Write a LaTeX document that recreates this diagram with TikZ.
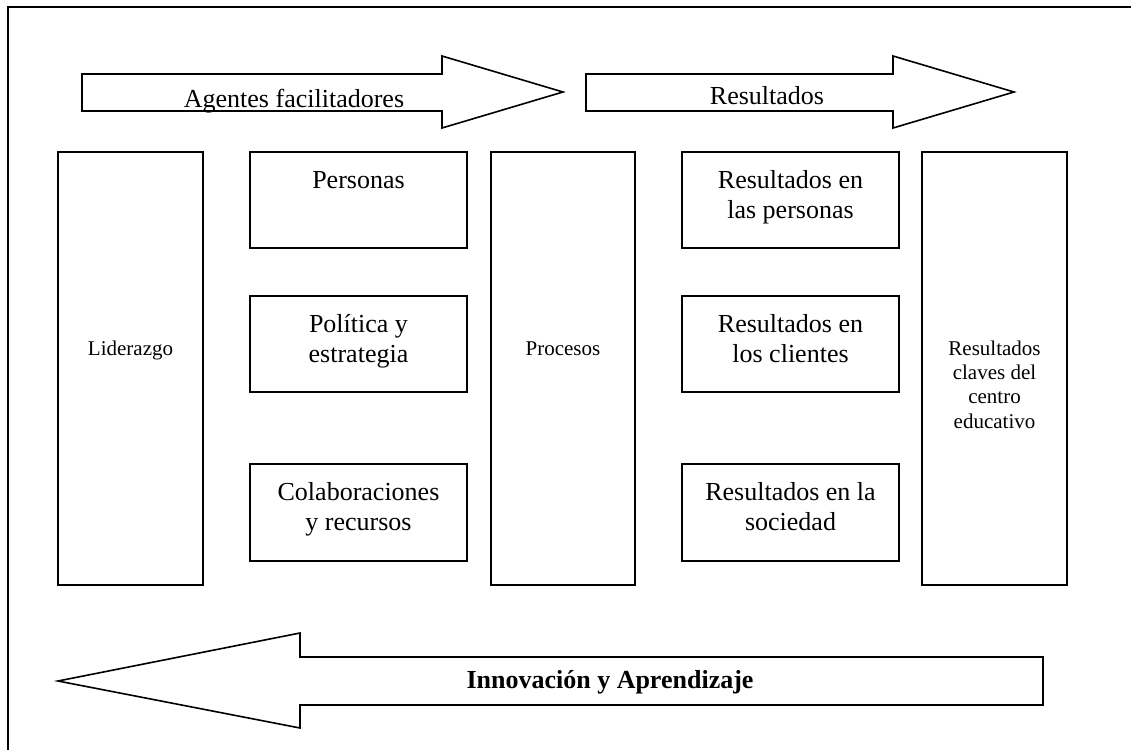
\documentclass[tikz,border=0pt]{standalone}
\usepackage{fontspec}
\setmainfont{Liberation Serif}
\begin{document}
\begin{tikzpicture}[x=1pt,y=-1pt,line join=miter,
  frame/.style={line width=1.8pt},
  shapeline/.style={draw,line width=1.6pt,fill=white},
  box/.style={draw,rectangle,inner sep=0pt,line width=1.6pt},
  big/.style={font=\fontsize{26}{30}\selectfont,inner sep=0pt,anchor=base},
  small/.style={font=\fontsize{21}{24}\selectfont,inner sep=0pt,anchor=base},
  bld/.style={font=\fontsize{26}{30}\selectfont\bfseries,inner sep=0pt,anchor=base}]
\useasboundingbox (0,0) rectangle (1131,749);
\clip (0,0) rectangle (1131,749);
% outer frame (continues past the right and bottom edges)
\draw[frame] (8,760) -- (8,7) -- (1140,7);

% top arrows
\draw[shapeline] (82,74) -- (442,74) -- (442,56) -- (563,92) -- (442,128) -- (442,111) -- (82,111) -- cycle;
\node[big] (agentes) at (294,107) {Agentes facilitadores};
\draw[shapeline] (586,74) -- (893,74) -- (893,56) -- (1014,92) -- (893,128) -- (893,111) -- (586,111) -- cycle;
\node[big] (resultados) at (767,105) {Resultados};

% boxes
\node[box,minimum width=145pt,minimum height=433pt] (lid) at (130.5,368.5) {};
\node[small] (lidt) at (130.5,355) {Liderazgo};

\node[box,minimum width=217pt,minimum height=96pt] (pers) at (358.5,200) {};
\node[big] (perst) at (358.5,188) {Personas};
\node[box,minimum width=217pt,minimum height=96pt] (pol) at (358.5,344) {};
\node[big] (polt1) at (358.5,332) {Política y};
\node[big] (polt2) at (358.5,362) {estrategia};
\node[box,minimum width=217pt,minimum height=97pt] (col) at (358.5,512.5) {};
\node[big] (colt1) at (358.5,500) {Colaboraciones};
\node[big] (colt2) at (358.5,530) {y recursos};

\node[box,minimum width=144pt,minimum height=433pt] (proc) at (563,368.5) {};
\node[small] (proct) at (563,355) {Procesos};

\node[box,minimum width=217pt,minimum height=96pt] (rp) at (790.5,200) {};
\node[big] (rpt1) at (790.5,188) {Resultados en};
\node[big] (rpt2) at (790.5,218) {las personas};
\node[box,minimum width=217pt,minimum height=96pt] (rc) at (790.5,344) {};
\node[big] (rct1) at (790.5,332) {Resultados en};
\node[big] (rct2) at (790.5,362) {los clientes};
\node[box,minimum width=217pt,minimum height=97pt] (rs) at (790.5,512.5) {};
\node[big] (rst1) at (790.5,500) {Resultados en la};
\node[big] (rst2) at (790.5,530) {sociedad};

\node[box,minimum width=145pt,minimum height=433pt] (clv) at (994.5,368.5) {};
\node[small] (clvt1) at (994.5,355) {Resultados};
\node[small] (clvt2) at (994.5,379) {claves del};
\node[small] (clvt3) at (994.5,403) {centro};
\node[small] (clvt4) at (994.5,428) {educativo};

% bottom arrow
\draw[shapeline] (1043,657) -- (300,657) -- (300,633) -- (58,681) -- (300,728) -- (300,705) -- (1043,705) -- cycle;
\node[bld] (innov) at (610,688) {Innovación y Aprendizaje};
\end{tikzpicture}
\end{document}
